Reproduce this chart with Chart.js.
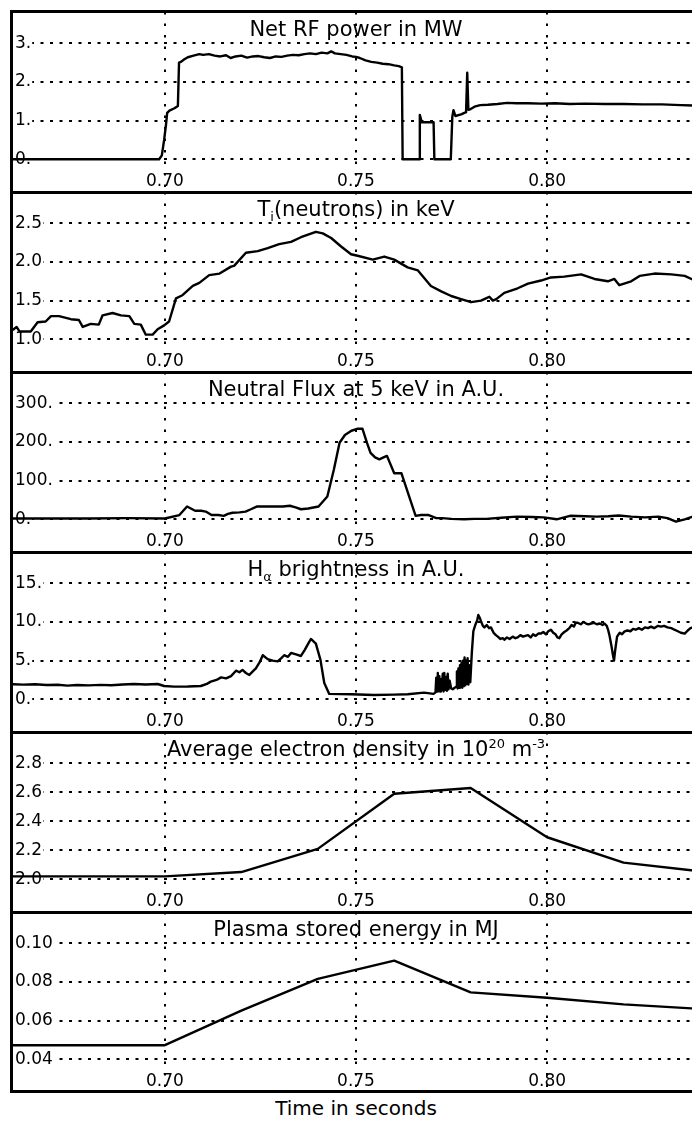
<!DOCTYPE html>
<html>
<head>
<meta charset="utf-8">
<title>RF heating discharge overview</title>
<script src="https://cdn.jsdelivr.net/npm/chart.js@4.4.1/dist/chart.umd.min.js"></script>
<style>
  html, body { margin: 0; padding: 0; background: #fff; width: 692px; height: 1121px; overflow: hidden; }
  .panel { position: absolute; left: 0; width: 700px; height: 180px; }
  .rule { position: absolute; background: #000; z-index: 3; }
  #xlabel { position: absolute; left: 0; width: 712px; top: 1098px; text-align: center;
            font: 20px/20px "DejaVu Sans", sans-serif; color: #000; }
</style>
</head>
<body>
<div id="stack"></div>
<div id="xlabel">Time in seconds</div>
<script>
// ---- shared time axis ----
const timeMin = 0.66;
const timeMax = 0.84;
const xTickValues = [0.70, 0.75, 0.80];
const xTickLabels = ['0.70', '0.75', '0.80'];

// ---- Net RF power (MW) ----
const rfTime = [0.660, 0.6985, 0.6992, 0.6998, 0.7003, 0.7006, 0.7012, 0.7025, 0.7034, 0.7037, 0.7042, 0.7050,
  0.7060, 0.7075, 0.7090, 0.7100, 0.7115, 0.7130, 0.7145, 0.7160, 0.7172, 0.7185, 0.7200, 0.7215, 0.7230,
  0.7245, 0.7260, 0.7275, 0.7290, 0.7305, 0.7320, 0.7335, 0.7350, 0.7365, 0.7380, 0.7395, 0.7410, 0.7425,
  0.7435, 0.7445, 0.7460, 0.7475, 0.7490, 0.7500, 0.7510, 0.7525, 0.7540, 0.7555, 0.7570, 0.7585, 0.7600,
  0.7612, 0.7620, 0.7622, 0.7665, 0.7667, 0.7672, 0.7703, 0.7705, 0.7748, 0.7752, 0.7755, 0.7760, 0.7775,
  0.7788, 0.7791, 0.7794, 0.7800, 0.7810, 0.7825, 0.7845, 0.7870, 0.7895, 0.7920, 0.7950, 0.7985, 0.8020,
  0.8060, 0.8100, 0.8150, 0.8200, 0.8250, 0.8300, 0.8350, 0.8382];
const rfPower = [0.0, 0.0, 0.1, 0.5, 0.9, 1.2, 1.26, 1.32, 1.38, 2.5, 2.52, 2.58,
  2.64, 2.68, 2.72, 2.70, 2.72, 2.68, 2.66, 2.69, 2.62, 2.66, 2.68, 2.63, 2.66,
  2.67, 2.64, 2.62, 2.66, 2.65, 2.68, 2.70, 2.69, 2.72, 2.74, 2.72, 2.76, 2.74,
  2.79, 2.74, 2.72, 2.70, 2.66, 2.65, 2.62, 2.56, 2.52, 2.50, 2.47, 2.46, 2.43,
  2.41, 2.38, 0.0, 0.0, 1.15, 0.96, 0.96, 0.0, 0.0, 1.1, 1.27, 1.12, 1.16,
  1.22, 2.24, 1.28, 1.30, 1.36, 1.40, 1.41, 1.43, 1.46, 1.45, 1.45, 1.44, 1.45,
  1.43, 1.44, 1.43, 1.43, 1.42, 1.42, 1.40, 1.39];
const rfTicks = [0, 1, 2, 3];
const rfTickLabels = ['0.', '1.', '2.', '3.'];

// ---- Ion temperature from neutrons (keV) ----
const tiTime = [0.6602, 0.6612, 0.6620, 0.6649, 0.6667, 0.6688, 0.6702, 0.6723, 0.6754, 0.6775, 0.6785, 0.6806,
  0.6827, 0.6837, 0.6863, 0.6885, 0.6907, 0.6920, 0.6937, 0.6950, 0.6968, 0.6981, 0.6998, 0.7011, 0.7029,
  0.7046, 0.7073, 0.7090, 0.7116, 0.7143, 0.7173, 0.7181, 0.7212, 0.7243, 0.7269, 0.7299, 0.7330, 0.7356,
  0.7395, 0.7413, 0.7435, 0.7461, 0.7487, 0.7504, 0.7544, 0.7574, 0.7600, 0.7635, 0.7662, 0.7696, 0.7723,
  0.7749, 0.7775, 0.7801, 0.7827, 0.7840, 0.7849, 0.7858, 0.7867, 0.7888, 0.7923, 0.7950, 0.7984, 0.8010,
  0.8045, 0.8089, 0.8124, 0.8159, 0.8176, 0.8189, 0.8220, 0.8242, 0.8281, 0.8325, 0.8360, 0.8382];
const tiKeV = [1.12, 1.16, 1.10, 1.10, 1.22, 1.23, 1.30, 1.30, 1.26, 1.25, 1.16, 1.20,
  1.19, 1.31, 1.34, 1.31, 1.30, 1.20, 1.19, 1.06, 1.06, 1.13, 1.18, 1.23, 1.53,
  1.57, 1.69, 1.73, 1.83, 1.85, 1.94, 1.95, 2.12, 2.14, 2.18, 2.23, 2.26, 2.32,
  2.39, 2.37, 2.31, 2.20, 2.10, 2.08, 2.03, 2.07, 2.03, 1.93, 1.89, 1.69, 1.62,
  1.56, 1.52, 1.48, 1.50, 1.53, 1.55, 1.50, 1.52, 1.60, 1.66, 1.72, 1.76, 1.80,
  1.81, 1.84, 1.78, 1.75, 1.78, 1.70, 1.75, 1.82, 1.85, 1.84, 1.82, 1.77];
const tiTicks = [1.0, 1.5, 2.0, 2.5];
const tiTickLabels = ['1.0', '1.5', '2.0', '2.5'];

// ---- Neutral flux at 5 keV (A.U.) ----
const fluxTime = [0.6596, 0.6700, 0.6801, 0.6900, 0.7000, 0.7038, 0.7058, 0.7068, 0.7079, 0.7095, 0.7107, 0.7122,
  0.7140, 0.7154, 0.7165, 0.7177, 0.7195, 0.7211, 0.7225, 0.7240, 0.7275, 0.7309, 0.7327, 0.7342, 0.7356,
  0.7375, 0.7402, 0.7425, 0.7442, 0.7457, 0.7471, 0.7488, 0.7503, 0.7517, 0.7529, 0.7538, 0.7550, 0.7561,
  0.7572, 0.7581, 0.7600, 0.7619, 0.7639, 0.7656, 0.7670, 0.7690, 0.7710, 0.7725, 0.7750, 0.7783, 0.7810,
  0.7841, 0.7880, 0.7921, 0.7960, 0.7991, 0.8025, 0.8060, 0.8100, 0.8129, 0.8160, 0.8187, 0.8220, 0.8256,
  0.8291, 0.8315, 0.8337, 0.8360, 0.8381];
const fluxAU = [2, 2, 2, 3, 2, 11, 33, 28, 22, 22, 20, 11,
  11, 9, 14, 17, 18, 20, 26, 33, 33, 33, 35, 31, 26,
  28, 33, 59, 128, 198, 218, 229, 234, 234, 197, 172, 160, 155,
  160, 164, 119, 119, 59, 9, 11, 11, 3, 3, 1, 0, 1,
  1, 4, 7, 6, 5, 0, 9, 8, 7, 8, 10, 7, 5,
  7, 3, -6, 0, 7];
const fluxTicks = [0, 100, 200, 300];
const fluxTickLabels = ['0.', '100.', '200.', '300.'];

// ---- H-alpha brightness (A.U.) ----
const haTime = [0.6602, 0.6630, 0.6660, 0.6690, 0.6720, 0.6745, 0.6770, 0.6800, 0.6832, 0.6860, 0.6890, 0.6919,
  0.6950, 0.6981, 0.6998, 0.7024, 0.7060, 0.7094, 0.7110, 0.7120, 0.7135, 0.7147, 0.7160, 0.7173, 0.7186,
  0.7195, 0.7203, 0.7212, 0.7221, 0.7230, 0.7238, 0.7248, 0.7256, 0.7269, 0.7282, 0.7295, 0.7304, 0.7312,
  0.7322, 0.7330, 0.7343, 0.7356, 0.7366, 0.7375, 0.7382, 0.7395, 0.7407, 0.7417, 0.7430, 0.7487, 0.7547,
  0.7600, 0.7635, 0.7678, 0.7703, 0.7708, 0.7710, 0.7712, 0.7714, 0.7716, 0.7718, 0.7720, 0.7722, 0.7724,
  0.7727, 0.7729, 0.7731, 0.7733, 0.7736, 0.7738, 0.7740, 0.7742, 0.7745, 0.7749, 0.7753, 0.7758, 0.7762,
  0.7764, 0.7766, 0.7768, 0.7770, 0.7772, 0.7774, 0.7776, 0.7778, 0.7780, 0.7782, 0.7784, 0.7786, 0.7788,
  0.7790, 0.7792, 0.7794, 0.7796, 0.7799, 0.7803, 0.7807, 0.7812, 0.7817, 0.7820, 0.7824, 0.7827, 0.7832,
  0.7836, 0.7842, 0.7848, 0.7853, 0.7860, 0.7866, 0.7871, 0.7878, 0.7884, 0.7888, 0.7895, 0.7902, 0.7910,
  0.7917, 0.7923, 0.7930, 0.7937, 0.7943, 0.7950, 0.7957, 0.7963, 0.7970, 0.7977, 0.7984, 0.7990, 0.7997,
  0.8003, 0.8010, 0.8016, 0.8022, 0.8027, 0.8032, 0.8038, 0.8045, 0.8051, 0.8058, 0.8064, 0.8070, 0.8075,
  0.8080, 0.8088, 0.8095, 0.8102, 0.8108, 0.8115, 0.8122, 0.8130, 0.8138, 0.8145, 0.8150, 0.8156, 0.8160,
  0.8163, 0.8168, 0.8172, 0.8175, 0.8178, 0.8183, 0.8190, 0.8196, 0.8202, 0.8210, 0.8218, 0.8225, 0.8232,
  0.8240, 0.8248, 0.8256, 0.8264, 0.8272, 0.8280, 0.8290, 0.8298, 0.8306, 0.8315, 0.8325, 0.8333, 0.8342,
  0.8350, 0.8360, 0.8368, 0.8375, 0.8382];
const haAU = [1.94, 1.90, 1.94, 1.85, 1.88, 1.77, 1.84, 1.80, 1.86, 1.82, 1.92, 1.98,
  1.92, 1.98, 1.72, 1.64, 1.66, 1.72, 2.0, 2.28, 2.5, 2.84, 2.7, 3.0, 3.7,
  3.5, 3.8, 3.4, 3.15, 3.6, 4.0, 4.8, 5.7, 5.2, 5.0, 4.9, 5.3, 5.7,
  5.5, 6.0, 5.8, 5.6, 6.4, 7.2, 7.8, 7.2, 5.1, 2.1, 0.7, 0.65, 0.56,
  0.6, 0.65, 0.86, 0.7, 0.9, 2.8, 1.0, 3.4, 1.1, 3.0, 1.0, 2.6, 1.2,
  3.3, 1.0, 3.4, 1.2, 2.9, 1.1, 3.3, 1.3, 2.4, 1.4, 1.3, 1.5, 1.6,
  3.6, 1.4, 4.0, 1.5, 4.4, 1.6, 4.7, 1.5, 5.0, 1.7, 5.4, 1.8, 5.0,
  2.0, 5.3, 1.9, 4.4, 2.2, 6.0, 8.8, 9.6, 10.2, 10.9, 10.5, 10.1, 9.5,
  9.3, 9.6, 9.2, 9.3, 8.6, 8.3, 8.1, 7.8, 7.9, 7.7, 8.0, 7.8, 8.1,
  7.9, 8.0, 8.3, 8.1, 8.2, 8.3, 8.0, 8.4, 8.2, 8.5, 8.5, 8.7, 8.4,
  8.8, 9.0, 8.6, 8.4, 8.0, 7.9, 8.4, 8.7, 8.9, 9.2, 9.6, 9.4, 9.9,
  9.9, 9.7, 10.0, 9.8, 9.7, 9.8, 9.9, 9.7, 9.8, 9.6, 9.8, 9.5, 8.9,
  8.3, 7.0, 5.8, 5.0, 6.3, 8.1, 8.6, 8.4, 8.75, 8.9, 8.8, 9.1, 9.0,
  9.2, 9.0, 9.3, 9.2, 9.4, 9.2, 9.5, 9.4, 9.5, 9.3, 9.2, 9.0, 8.8,
  8.6, 8.5, 8.9, 9.2, 9.3];
const haTicks = [0, 5, 10, 15];
const haTickLabels = ['0.', '5.', '10.', '15.'];

// ---- Line-averaged electron density (1e20 m^-3) ----
const neTime = [0.66, 0.68, 0.70, 0.72, 0.74, 0.76, 0.78, 0.80, 0.82, 0.84];
const neDensity = [2.02, 2.02, 2.02, 2.05, 2.21, 2.59, 2.63, 2.29, 2.115, 2.055];
const neTicks = [2.0, 2.2, 2.4, 2.6, 2.8];
const neTickLabels = ['2.0', '2.2', '2.4', '2.6', '2.8'];

// ---- Plasma stored energy (MJ) ----
const wTime = [0.66, 0.68, 0.70, 0.72, 0.74, 0.76, 0.78, 0.80, 0.82, 0.84];
const wEnergy = [0.0473, 0.0473, 0.0473, 0.0652, 0.0816, 0.0910, 0.0746, 0.0718, 0.0684, 0.0661];
const wTicks = [0.04, 0.06, 0.08, 0.10];
const wTickLabels = ['0.04', '0.06', '0.08', '0.10'];

// ---- headings (plain / sub / sup runs) ----
const rfHeading = [['Net RF power in MW']];
const tiHeading = [['T'], ['i', 'sub'], ['(neutrons) in keV']];
const fluxHeading = [['Neutral Flux at 5 keV in A.U.']];
const haHeading = [['H'], ['\u03b1', 'sub'], [' brightness in A.U.']];
const neHeading = [['Average electron density in 10'], ['20', 'sup'], [' m'], ['-3', 'sup']];
const wHeading = [['Plasma stored energy in MJ']];

// ---- layout ----
const FONT = '"DejaVu Sans", sans-serif';
const PANEL_TOP = 12;
const PANEL_H = 180;
const GRID_TOP = 31.3;      // offset of the highest tick line inside a panel
const GRID_BOTTOM = 147.3;  // offset of the lowest tick line inside a panel

Chart.defaults.font.family = FONT;
Chart.defaults.color = '#000';

const headingPlugin = {
  id: 'panelHeading',
  afterDatasetsDraw(chart, args, opts) {
    const runs = opts.runs;
    if (!runs) return;
    const ctx = chart.ctx;
    const area = chart.chartArea;
    const fontFor = kind => (kind ? '13px ' : '21px ') + FONT;
    ctx.save();
    let total = 0;
    runs.forEach(([text, kind]) => { ctx.font = fontFor(kind); total += ctx.measureText(text).width; });
    let x = (area.left + area.right) / 2 - total / 2;
    const base = area.top + 24;
    ctx.fillStyle = '#000';
    ctx.textAlign = 'left';
    ctx.textBaseline = 'alphabetic';
    runs.forEach(([text, kind]) => {
      ctx.font = fontFor(kind);
      const dy = kind === 'sub' ? 5 : kind === 'sup' ? -8 : 0;
      ctx.fillText(text, x, base + dy);
      x += ctx.measureText(text).width;
    });
    ctx.restore();
  }
};

function yRange(ticks) {
  const lo = ticks[0], hi = ticks[ticks.length - 1];
  const perPx = (hi - lo) / (GRID_BOTTOM - GRID_TOP);
  return { min: lo - (PANEL_H - GRID_BOTTOM) * perPx, max: hi + GRID_TOP * perPx };
}

const panels = [
  { t: rfTime, v: rfPower, ticks: rfTicks, labels: rfTickLabels, heading: rfHeading },
  { t: tiTime, v: tiKeV, ticks: tiTicks, labels: tiTickLabels, heading: tiHeading },
  { t: fluxTime, v: fluxAU, ticks: fluxTicks, labels: fluxTickLabels, heading: fluxHeading },
  { t: haTime, v: haAU, ticks: haTicks, labels: haTickLabels, heading: haHeading },
  { t: neTime, v: neDensity, ticks: neTicks, labels: neTickLabels, heading: neHeading },
  { t: wTime, v: wEnergy, ticks: wTicks, labels: wTickLabels, heading: wHeading }
];

const stack = document.getElementById('stack');

panels.forEach((p, k) => {
  const holder = document.createElement('div');
  holder.className = 'panel';
  holder.style.top = (PANEL_TOP + k * PANEL_H) + 'px';
  const canvas = document.createElement('canvas');
  canvas.width = 700;
  canvas.height = PANEL_H;
  canvas.style.width = '700px';
  canvas.style.height = PANEL_H + 'px';
  holder.appendChild(canvas);
  stack.appendChild(holder);

  const range = yRange(p.ticks);
  new Chart(canvas, {
    type: 'line',
    data: {
      datasets: [{
        data: p.t.map((t, i) => ({ x: t, y: p.v[i] })),
        borderColor: '#000',
        borderWidth: 2.4,
        pointRadius: 0,
        tension: 0,
        fill: false,
        borderJoinStyle: 'round'
      }]
    },
    options: {
      responsive: false,
      animation: false,
      devicePixelRatio: 1,
      events: [],
      layout: { padding: { left: 6, right: 0, top: 0, bottom: 0 } },
      plugins: {
        legend: { display: false },
        tooltip: { enabled: false },
        panelHeading: { runs: p.heading }
      },
      scales: {
        x: {
          type: 'linear',
          position: 'bottom',
          min: timeMin,
          max: timeMax,
          afterBuildTicks: s => { s.ticks = xTickValues.map(v => ({ value: v })); },
          afterFit: s => { s.paddingLeft = 0; s.paddingRight = 0; },
          grid: { color: '#000', lineWidth: 2, drawTicks: false },
          border: { display: false, dash: [2.5, 9] },
          ticks: {
            mirror: true, padding: 0, maxRotation: 0, autoSkip: false,
            color: '#000', font: { size: 17 },
            callback: (v, i) => xTickLabels[i]
          }
        },
        y: {
          type: 'linear',
          position: 'left',
          min: range.min,
          max: range.max,
          afterBuildTicks: s => { s.ticks = p.ticks.map(v => ({ value: v })); },
          afterFit: s => { s.paddingTop = 0; s.paddingBottom = 0; },
          grid: { color: '#000', lineWidth: 2, drawTicks: false },
          border: { display: false, dash: [3, 6.5] },
          ticks: {
            mirror: true, padding: 3, autoSkip: false,
            color: '#000', font: { size: 17 },
            showLabelBackdrop: true, backdropColor: '#fff',
            backdropPadding: { top: 0, bottom: 0, left: 2, right: 1 },
            callback: (v, i) => p.labels[i]
          }
        }
      }
    },
    plugins: [headingPlugin]
  });
});

// frame: left edge, top edge, panel separators and bottom edge
function rule(left, top, width, height) {
  const d = document.createElement('div');
  d.className = 'rule';
  d.style.left = left + 'px';
  d.style.top = top + 'px';
  d.style.width = width + 'px';
  d.style.height = height + 'px';
  document.body.appendChild(d);
}
rule(10, 10, 3, 1083);
rule(10, 10, 700, 3);
for (let k = 1; k < panels.length; k++) rule(10, PANEL_TOP + k * PANEL_H - 1, 700, 2.5);
rule(10, PANEL_TOP + panels.length * PANEL_H - 2, 700, 3);
</script>
</body>
</html>
